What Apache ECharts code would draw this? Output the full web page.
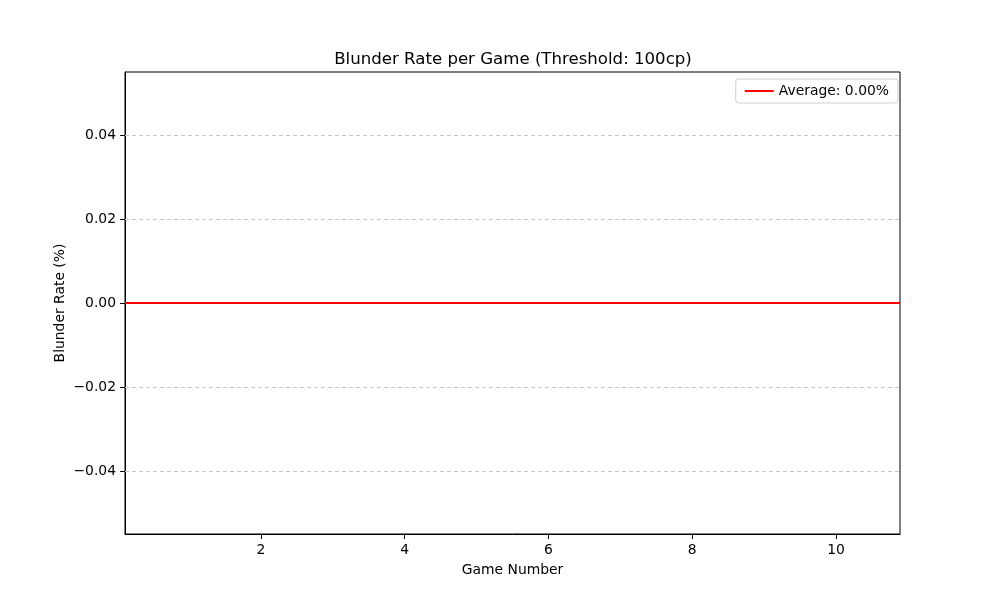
<!DOCTYPE html>
<html>
<head>
<meta charset="utf-8">
<script src="https://cdn.jsdelivr.net/npm/echarts@6/dist/echarts.min.js"></script>
<style>
  html, body { margin: 0; padding: 0; background: #fff; }
  #main { width: 1000px; height: 600px; }
</style>
</head>
<body>
<div id="main"></div>
<script>
// games and their blunder rates (all zero)
var games = [1, 2, 3, 4, 5, 6, 7, 8, 9, 10];
var blunderRates = [0, 0, 0, 0, 0, 0, 0, 0, 0, 0];
var averageRate = 0;
var xTicks = [2, 4, 6, 8, 10];
var yTicks = [-0.04, -0.02, 0, 0.02, 0.04];

var chartDom = document.getElementById('main');
var myChart = echarts.init(chartDom);

var barData = [];
games.forEach(function (g, i) {
    barData.push([g, blunderRates[i]]);
});

var font = 'DejaVu Sans';

var option = {
    animation: false,
    backgroundColor: '#fff',
    title: {
        text: 'Blunder Rate per Game (Threshold: 100cp)',
        left: 508,
        textAlign: 'center',
        top: 46,
        textStyle: { fontFamily: font, fontSize: 16.6, fontWeight: 'normal', color: '#000' }
    },
    legend: {
        right: 102,
        top: 79,
        data: [{ name: 'Average: ' + averageRate.toFixed(2) + '%', icon: 'rect' }],
        itemWidth: 29,
        itemHeight: 2,
        itemGap: 10,
        padding: [5, 9, 5, 9],
        borderColor: '#d0d0d0',
        borderWidth: 1,
        borderRadius: 3,
        textStyle: { fontFamily: font, fontSize: 13.9, color: '#000' }
    },
    grid: {
        left: 125,
        right: 100,
        top: 72,
        bottom: 66,
        show: true,
        borderColor: '#000',
        borderWidth: 1,
        backgroundColor: 'transparent'
    },
    xAxis: {
        type: 'value',
        min: 0.11,
        max: 10.89,
        name: 'Game Number',
        nameLocation: 'middle',
        nameGap: 29,
        nameMoveOverlap: false,
        nameTextStyle: { fontFamily: font, fontSize: 13.9, color: '#000' },
        axisLine: { show: true, onZero: false, lineStyle: { color: '#000', width: 1 } },
        axisTick: { show: true, length: 5, customValues: xTicks, lineStyle: { color: '#000' } },
        axisLabel: { customValues: xTicks, margin: 9, fontFamily: font, fontSize: 13.9, color: '#000' },
        splitLine: { show: false }
    },
    yAxis: {
        type: 'value',
        min: -0.055,
        max: 0.055,
        name: 'Blunder Rate (%)',
        nameLocation: 'middle',
        nameGap: 58,
        nameMoveOverlap: false,
        nameTextStyle: { fontFamily: font, fontSize: 13.9, color: '#000' },
        axisLine: { show: true, onZero: false, lineStyle: { color: '#000', width: 1 } },
        axisTick: { show: true, length: 5, customValues: yTicks, lineStyle: { color: '#000' } },
        axisLabel: {
            customValues: yTicks,
            margin: 9,
            fontFamily: font,
            fontSize: 13.9,
            color: '#000',
            formatter: function (v) { return v.toFixed(2).replace('-', '\u2212'); }
        },
        splitLine: { show: false }
    },
    series: [{
        name: 'Blunder Rate',
        type: 'bar',
        data: barData,
        barWidth: 57,
        itemStyle: { color: '#1f77b4' },
        // dashed horizontal grid lines
        markLine: {
            silent: true,
            symbol: 'none',
            label: { show: false },
            lineStyle: { color: '#c8c8c8', type: [4, 3], width: 1 },
            data: yTicks.map(function (v) { return { yAxis: v }; })
        }
    }, {
        name: 'Average: ' + averageRate.toFixed(2) + '%',
        type: 'line',
        data: [],
        itemStyle: { color: 'red' },
        lineStyle: { color: 'red' },
        markLine: {
            silent: true,
            symbol: 'none',
            label: { show: false },
            lineStyle: { color: 'red', type: 'solid', width: 2 },
            data: [{ yAxis: averageRate }]
        }
    }]
};

option && myChart.setOption(option);
</script>
</body>
</html>
